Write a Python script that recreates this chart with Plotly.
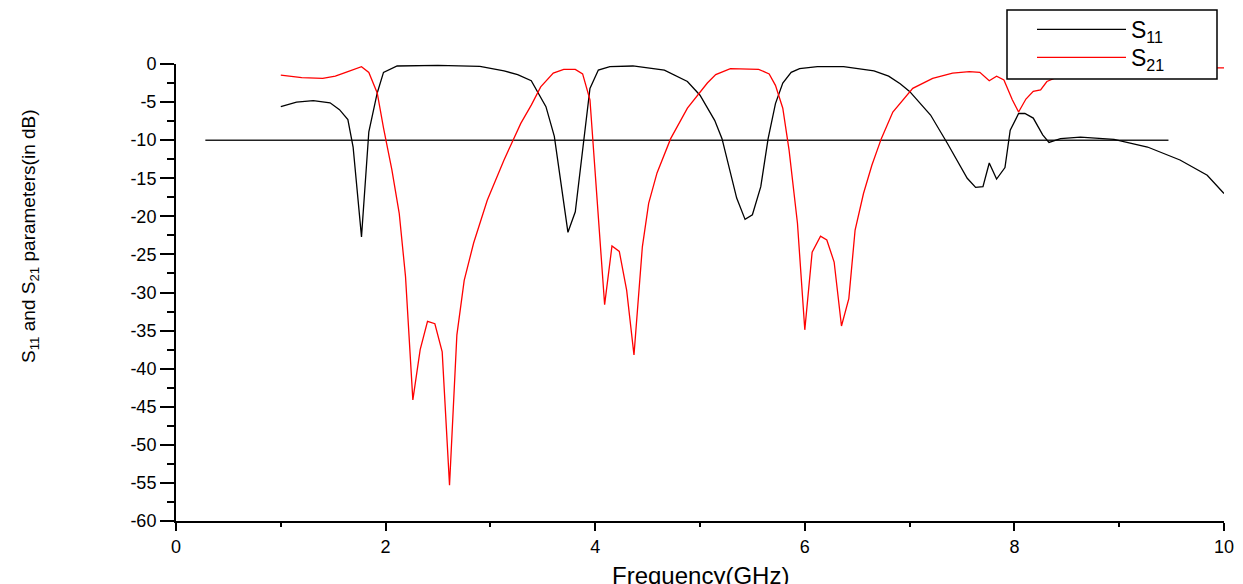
import plotly.graph_objects as go

# ---- data ----
s11_freq = [1.00, 1.15, 1.31, 1.47, 1.56, 1.64, 1.69, 1.77, 1.84, 1.92, 1.98, 2.11, 2.50, 2.90,
            3.13, 3.26, 3.39, 3.53, 3.61, 3.74, 3.81, 3.87, 3.95, 4.03, 4.14, 4.36, 4.66, 4.88,
            5.00, 5.14, 5.21, 5.35, 5.43, 5.50, 5.58, 5.65, 5.72, 5.79, 5.87, 5.95, 6.12, 6.37,
            6.66, 6.80, 6.91, 7.00, 7.20, 7.36, 7.55, 7.63, 7.70, 7.76, 7.83, 7.91, 7.96, 8.04,
            8.10, 8.18, 8.27, 8.33, 8.44, 8.63, 8.95, 9.27, 9.58, 9.84, 10.00]
s11_db = [-5.6, -5.0, -4.8, -5.1, -6.0, -7.3, -10.9, -22.7, -8.9, -3.8, -1.1, -0.26, -0.18, -0.3,
          -0.9, -1.4, -2.2, -5.6, -9.5, -22.1, -19.4, -12.6, -3.2, -0.8, -0.35, -0.26, -0.8, -2.3,
          -4.1, -7.4, -9.8, -17.6, -20.4, -19.8, -16.1, -9.8, -5.2, -2.5, -1.1, -0.6, -0.35, -0.35,
          -0.9, -1.6, -2.6, -3.6, -6.7, -10.4, -15.0, -16.2, -16.1, -13.0, -15.1, -13.6, -8.7, -6.5,
          -6.5, -7.1, -9.3, -10.3, -9.8, -9.6, -9.9, -10.9, -12.6, -14.6, -17.0]

s21_freq = [1.00, 1.20, 1.40, 1.52, 1.62, 1.77, 1.84, 1.92, 1.98, 2.06, 2.13, 2.19, 2.26, 2.33,
            2.40, 2.47, 2.54, 2.61, 2.68, 2.75, 2.84, 2.97, 3.13, 3.29, 3.39, 3.48, 3.60, 3.70,
            3.81, 3.88, 3.95, 4.01, 4.09, 4.16, 4.23, 4.30, 4.37, 4.45, 4.51, 4.59, 4.72, 4.88,
            5.07, 5.15, 5.29, 5.56, 5.66, 5.72, 5.79, 5.85, 5.93, 6.00, 6.07, 6.15, 6.21, 6.28,
            6.35, 6.42, 6.48, 6.56, 6.64, 6.73, 6.84, 7.03, 7.22, 7.41, 7.57, 7.67, 7.76, 7.83,
            7.90, 7.98, 8.04, 8.11, 8.18, 8.25, 8.31, 8.50, 8.80, 9.20, 9.60, 10.00]
s21_db = [-1.45, -1.8, -1.9, -1.6, -1.1, -0.35, -1.1, -3.8, -8.4, -13.9, -19.6, -27.9, -44.1, -37.5,
          -33.8, -34.1, -37.8, -55.3, -35.6, -28.4, -23.5, -17.9, -12.6, -7.8, -5.4, -3.0, -1.2, -0.7,
          -0.7, -1.3, -4.7, -15.7, -31.6, -23.9, -24.6, -29.7, -38.2, -24.0, -18.3, -14.3, -9.8, -5.8,
          -2.5, -1.4, -0.6, -0.7, -1.3, -2.8, -5.8, -11.3, -20.9, -34.9, -24.7, -22.6, -23.1, -26.0,
          -34.4, -30.8, -21.8, -17.0, -13.3, -9.8, -6.3, -3.2, -1.9, -1.2, -1.0, -1.1, -2.2, -1.6,
          -2.1, -4.7, -6.3, -4.6, -3.6, -3.4, -2.3, -1.2, -0.7, -0.5, -0.5, -0.5]

ref_freq = [0.28, 9.47]
ref_db = [-10, -10]

x_ticks = [0, 2, 4, 6, 8, 10]
y_ticks = [0, -5, -10, -15, -20, -25, -30, -35, -40, -45, -50, -55, -60]

FONT = "Liberation Sans, Arial, sans-serif"

# page body has an 8px default margin; lay out in page pixels and subtract it
OFF = 8
W, H = 1243 - OFF, 584 - OFF
PL, PR, PT, PB = 176, 1224, 64, 521          # plot area in page pixels
L, T = PL - OFF, PT - OFF
R, B = W - (PR - OFF), H - (PB - OFF)
pw, ph = PR - PL, PB - PT

def px_x(p):
    return (p - PL) / pw

def px_y(p):
    return (PB - p) / ph

fig = go.Figure()
fig.add_trace(go.Scatter(x=ref_freq, y=ref_db, mode="lines", showlegend=False,
                         line=dict(color="#222222", width=1.5)))
fig.add_trace(go.Scatter(x=s11_freq, y=s11_db, mode="lines", name="S<sub>11</sub>",
                         legend="legend", line=dict(color="black", width=1.3)))
fig.add_trace(go.Scatter(x=s21_freq, y=s21_db, mode="lines", name="S<sub>21</sub>",
                         legend="legend2", line=dict(color="#ff0000", width=1.3)))

# legend box
fig.add_shape(type="rect", xref="paper", yref="paper",
              x0=px_x(1007), x1=px_x(1217), y0=px_y(79), y1=px_y(10),
              line=dict(color="black", width=1.5), fillcolor="white", layer="above")

leg_common = dict(xanchor="left", yanchor="top", bgcolor="rgba(0,0,0,0)", borderwidth=0,
                  font=dict(size=23, family=FONT, color="black"), itemwidth=89)

fig.update_layout(
    width=W, height=H,
    margin=dict(l=L, r=R, t=T, b=B, autoexpand=False),
    paper_bgcolor="white", plot_bgcolor="white",
    font=dict(family=FONT, color="black"),
    showlegend=True,
    legend=dict(x=px_x(1032), y=px_y(29 - 21), **leg_common),
    legend2=dict(x=px_x(1032), y=px_y(57 - 21), **leg_common),
    xaxis=dict(range=[0, 10], tickvals=x_ticks, ticktext=[str(v) for v in x_ticks],
               showgrid=False, zeroline=False, showline=True, linecolor="black", linewidth=2,
               ticks="outside", ticklen=8, tickwidth=2, tickcolor="black",
               tickfont=dict(size=18, family=FONT),
               minor=dict(dtick=1, ticks="outside", ticklen=4, tickwidth=2, tickcolor="black")),
    yaxis=dict(range=[-60, 0], tickvals=y_ticks, ticktext=[str(v) for v in y_ticks],
               showgrid=False, zeroline=False, showline=True, linecolor="black", linewidth=2,
               ticks="outside", ticklen=14, tickwidth=2, tickcolor="black",
               tickfont=dict(size=18, family=FONT),
               minor=dict(dtick=2.5, ticks="outside", ticklen=7, tickwidth=2, tickcolor="black")),
)

fig.add_annotation(text="Frequency(GHz)", xref="paper", yref="paper",
                   x=0.5, y=px_y(560), xanchor="center", yanchor="top",
                   showarrow=False, font=dict(size=24, family=FONT, color="black"))
fig.add_annotation(text="S<sub>11</sub> and S<sub>21</sub> parameters(in dB)",
                   xref="paper", yref="paper", x=px_x(30), y=px_y(236),
                   xanchor="center", yanchor="middle", textangle=-90,
                   showarrow=False, font=dict(size=19, family=FONT, color="black"))

fig.write_html("out.html")
